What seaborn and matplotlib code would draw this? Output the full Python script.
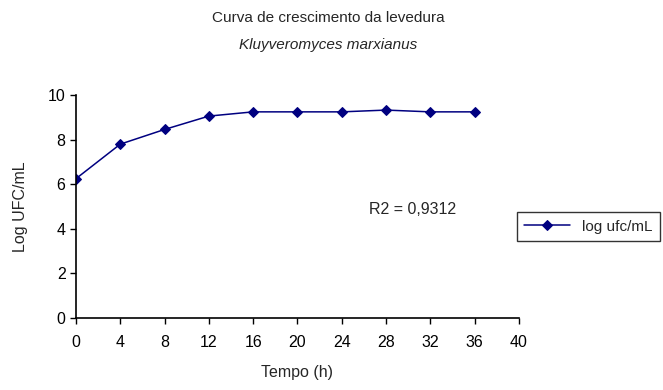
import matplotlib
matplotlib.use("Agg")
import matplotlib.pyplot as plt
import pandas as pd
import seaborn as sns

# tempo (h) and log UFC/mL
tempo = [0, 4, 8, 12, 16, 20, 24, 28, 32, 36]
log_ufc = [6.25, 7.8, 8.46, 9.06, 9.25, 9.25, 9.25, 9.33, 9.25, 9.25]
x_ticks = [0, 4, 8, 12, 16, 20, 24, 28, 32, 36, 40]
y_ticks = [0, 2, 4, 6, 8, 10]

sns.set_style("white")
plt.rcParams['font.family'] = ['Liberation Sans', 'DejaVu Sans']

df = pd.DataFrame({"tempo": tempo, "log ufc/mL": log_ufc})

fig = plt.figure(figsize=(6.63, 3.9), dpi=100)
ax = fig.add_axes([0.1146, 0.185, 0.668, 0.571])

sns.lineplot(data=df, x="tempo", y="log ufc/mL", ax=ax, color="#000080",
             marker="D", markersize=5, markeredgecolor="#000080",
             linewidth=1.1, label="log ufc/mL")

ax.set_xlim(0, 40)
ax.set_ylim(0, 10)
ax.set_xticks(x_ticks)
ax.set_yticks(y_ticks)
ax.tick_params(axis="both", direction="out", length=4, width=1, colors="black",
               labelsize=11.5, bottom=True, left=True)
ax.tick_params(axis="x", pad=8)
sns.despine(ax=ax)
for s in ["left", "bottom"]:
    ax.spines[s].set_color("black")
    ax.spines[s].set_linewidth(1.2)

ax.set_xlabel("Tempo (h)", fontsize=11.5, labelpad=11)
ax.set_ylabel("Log UFC/mL", fontsize=11.5, labelpad=14)

ax.text(26.5, 4.85, "R2 = 0,9312", fontsize=11.5, va="center")

fig.text(0.495, 0.954, "Curva de crescimento da levedura", ha="center",
         va="center", fontsize=11)
fig.text(0.495, 0.885, "Kluyveromyces marxianus", ha="center",
         va="center", fontsize=11, style="italic")

leg = ax.legend(loc="center left", bbox_to_anchor=(0.995, 0.41), frameon=True,
                fancybox=False, fontsize=11, handlelength=3,
                borderpad=0.5, borderaxespad=0.0)
leg.get_frame().set_edgecolor("black")
leg.get_frame().set_linewidth(1)

fig.savefig("out.png", dpi=100)
